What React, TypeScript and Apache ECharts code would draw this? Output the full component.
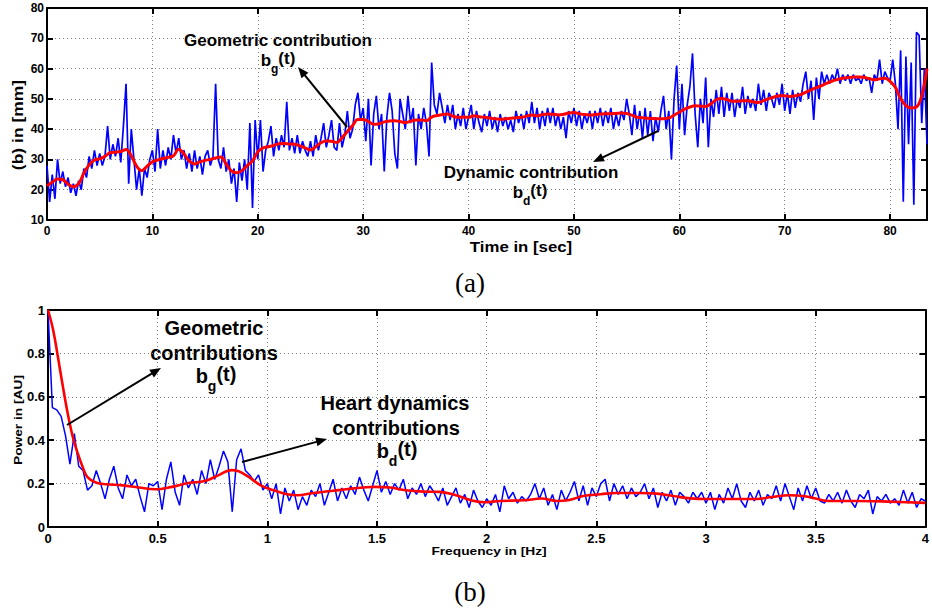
import React, { useEffect, useRef } from "react";
import * as echarts from "echarts";

// ---------- Data ----------
// (a) raw displacement b(t) in mm, one row per second, step 0.25 s, t = 0 .. 83.5
const TOP_STEP = 0.25;
const blueTop: number[] = [
  28, 16, 25, 17, 30, 22, 26, 21, 24, 19, 22, 18, 23, 20, 27, 24,
  31, 27, 33, 28, 32, 28, 31, 41, 30, 35, 31, 37, 29, 41, 55, 22,
  40, 30, 20, 27, 18, 27, 24, 30, 33, 26, 40, 27, 33, 28, 34, 30,
  38, 32, 37, 30, 33, 27, 32, 26, 33, 27, 31, 25, 31, 33, 28, 31,
  55, 30, 27, 34, 26, 30, 22, 27, 16, 29, 23, 30, 20, 42, 14, 43,
  30, 43, 26, 33, 36, 41, 31, 37, 33, 38, 34, 49, 33, 37, 32, 38,
  32, 36, 33, 31, 36, 31, 38, 33, 37, 42, 34, 38, 43, 34, 33, 42,
  34, 38, 46, 37, 40, 48, 52, 43, 47, 36, 50, 28, 45, 51, 40, 45,
  26, 44, 52, 46, 32, 27, 50, 45, 40, 51, 42, 47, 28, 45, 40, 47,
  42, 31, 62, 48, 45, 52, 47, 42, 48, 43, 48, 40, 45, 41, 47, 40,
  44, 48, 40, 46, 42, 39, 45, 41, 46, 40, 44, 39, 45, 41, 44, 40,
  43, 39, 46, 42, 45, 40, 46, 42, 49, 42, 47, 40, 46, 41, 47, 42,
  47, 41, 45, 40, 44, 37, 46, 42, 47, 41, 46, 40, 45, 42, 46, 40,
  46, 42, 47, 41, 46, 42, 47, 40, 45, 41, 46, 43, 50, 45, 38, 48,
  40, 46, 37, 47, 38, 46, 36, 44, 39, 46, 51, 40, 46, 30, 50, 61,
  40, 55, 38, 48, 54, 65, 45, 34, 50, 42, 57, 34, 50, 44, 53, 45,
  54, 44, 52, 46, 52, 44, 50, 47, 54, 45, 51, 47, 50, 46, 55, 48,
  53, 46, 52, 50, 47, 52, 48, 55, 46, 52, 45, 53, 47, 52, 49, 55,
  59, 50, 56, 43, 57, 50, 59, 55, 58, 55, 58, 56, 60, 55, 58, 56,
  58, 55, 58, 56, 57, 55, 58, 56, 57, 52, 58, 56, 63, 55, 59, 57,
  56, 63, 55, 40, 66, 16, 64, 35, 62, 15, 72, 71, 42, 60, 35,
];

// (a) geometric contribution b_g(t), step 0.5 s, t = 0 .. 83.5
const RED_TOP_STEP = 0.5;
const redTop: number[] = [
  21.3, 22.5, 23.5, 23.3, 21.8, 21, 22, 25.5, 28.2, 29.8, 30.2, 31,
  32.2, 32.4, 32.6, 33.3, 31.2, 27.8, 26.3, 27.8, 29.2, 29.8, 30.3, 30.7,
  31.2, 33.4, 31.8, 29.5, 28.5, 29.2, 29.7, 30, 30.5, 30.8, 28.5, 26.2,
  25.6, 26.3, 28, 29.5, 32.5, 33.8, 34.2, 34.6, 35.2, 35.3, 35.1, 35,
  34.5, 33.8, 33.1, 34.2, 35.5, 36.1, 36, 35.6, 37.2, 39.2, 41.2, 43.2,
  43.2, 42.5, 41.6, 41.8, 42.4, 42.7, 42.8, 42.5, 42.2, 42.6, 43, 43,
  42.8, 44, 44.5, 44.8, 45, 44.3, 43.9, 44, 43.9, 44.4, 44.1, 43.9,
  43.7, 43.4, 43.3, 43.4, 43.6, 43.8, 43.9, 44.3, 44.7, 44.4, 44.8, 45,
  44.9, 44.7, 44.9, 45.3, 45.5, 45.1, 44.8, 44.7, 44.8, 45, 45.1, 45.1,
  45.2, 45.3, 45.2, 44.6, 43.9, 43.8, 43.6, 43.5, 43.4, 43.4, 43.7, 44.6,
  45.6, 46.6, 47.3, 47.7, 47.6, 47.5, 48.4, 49.7, 50.1, 49.8, 49.2, 49.2,
  49.4, 49.4, 49, 48.8, 49.4, 50.1, 50.6, 51, 51, 50.8, 51, 51.4,
  52.2, 53, 53.7, 54.4, 55.2, 55.9, 56.4, 56.8, 57, 57.2, 57.2, 57.1,
  56.7, 56.3, 56.6, 56.8, 55.8, 53.8, 50, 47.8, 47, 47.3, 51, 60,
];

// (b) power spectrum, step 0.02 Hz, f = 0 .. 4
const BOTTOM_STEP = 0.02;
const blueBottom: number[] = [
  1.0, 0.55, 0.54, 0.51, 0.42, 0.29, 0.43, 0.28, 0.26, 0.17,
  0.19, 0.26, 0.2, 0.13, 0.22, 0.28, 0.18, 0.13, 0.24, 0.19,
  0.22, 0.14, 0.07, 0.2, 0.19, 0.21, 0.08, 0.22, 0.3, 0.16,
  0.1, 0.24, 0.18, 0.22, 0.15, 0.26, 0.2, 0.31, 0.22, 0.28,
  0.35, 0.3, 0.07, 0.31, 0.36, 0.26, 0.24, 0.21, 0.24, 0.17,
  0.2, 0.13, 0.2, 0.06, 0.18, 0.12, 0.17, 0.08, 0.14, 0.1,
  0.17, 0.14, 0.2, 0.1, 0.16, 0.22, 0.12, 0.18, 0.13, 0.19,
  0.15, 0.23, 0.17, 0.12, 0.19, 0.26, 0.16, 0.21, 0.15, 0.2,
  0.17, 0.22, 0.13, 0.18, 0.15, 0.2, 0.14, 0.19, 0.16, 0.12,
  0.18, 0.1, 0.14, 0.18, 0.11, 0.15, 0.09, 0.17, 0.12, 0.09,
  0.13, 0.1, 0.15, 0.07, 0.19, 0.13, 0.16, 0.11, 0.14, 0.12,
  0.15, 0.2, 0.13, 0.18, 0.1, 0.15, 0.08, 0.17, 0.12, 0.16,
  0.21, 0.12, 0.19, 0.1, 0.18, 0.14, 0.2, 0.22, 0.12, 0.2,
  0.15, 0.19, 0.13, 0.18, 0.14, 0.16, 0.2, 0.13, 0.18, 0.09,
  0.16, 0.12, 0.17, 0.1, 0.16, 0.14, 0.11, 0.16, 0.13, 0.16,
  0.11, 0.16, 0.08, 0.15, 0.11, 0.18, 0.13, 0.2, 0.12, 0.09,
  0.16, 0.12, 0.17, 0.1, 0.15, 0.13, 0.19, 0.12, 0.2, 0.14,
  0.08, 0.18, 0.12, 0.19, 0.13, 0.18, 0.12, 0.11, 0.15, 0.12,
  0.16, 0.11, 0.17, 0.12, 0.09, 0.15, 0.13, 0.17, 0.06, 0.14,
  0.12, 0.15, 0.11, 0.13, 0.1, 0.17, 0.11, 0.16, 0.09, 0.13,
  0.12,
];

// (b) smoothed spectrum: [frequency, power]
const redBottom: [number, number][] = [
  [0, 1.0], [0.023, 0.91], [0.045, 0.785], [0.068, 0.646], [0.09, 0.523],
  [0.113, 0.415], [0.136, 0.338], [0.158, 0.277], [0.18, 0.23], [0.218, 0.205],
  [0.264, 0.197], [0.339, 0.192], [0.414, 0.182], [0.49, 0.174], [0.565, 0.185],
  [0.64, 0.203], [0.715, 0.212], [0.776, 0.238], [0.836, 0.262], [0.866, 0.258],
  [0.91, 0.234], [0.97, 0.192], [1.03, 0.169], [1.09, 0.151], [1.137, 0.146],
  [1.21, 0.157], [1.29, 0.166], [1.36, 0.174], [1.44, 0.182], [1.49, 0.185],
  [1.56, 0.182], [1.63, 0.169], [1.71, 0.163], [1.785, 0.162], [1.86, 0.146],
  [1.93, 0.123], [1.99, 0.114], [2.06, 0.12], [2.17, 0.123], [2.25, 0.131],
  [2.32, 0.12], [2.37, 0.123], [2.44, 0.143], [2.52, 0.151], [2.59, 0.157],
  [2.7, 0.157], [2.776, 0.154], [2.85, 0.143], [2.93, 0.132], [3.0, 0.129],
  [3.08, 0.129], [3.15, 0.129], [3.23, 0.129], [3.3, 0.138], [3.38, 0.146],
  [3.45, 0.142], [3.5, 0.131], [3.56, 0.12], [3.68, 0.12], [3.83, 0.117],
  [4.0, 0.111],
];

// axis ranges
const TOP_X = { min: 0, max: 83.5, interval: 10 };
const TOP_Y = { min: 10, max: 80, interval: 10 };
const BOT_X = { min: 0, max: 4, interval: 0.5 };
const BOT_Y = { min: 0, max: 1, interval: 0.2 };

const FONT = "'Liberation Sans', Arial, Helvetica, sans-serif";
const SERIF = "'Liberation Serif', 'DejaVu Serif', serif";

function measure(text: string, size: number): number {
  const c = document.createElement("canvas").getContext("2d");
  if (!c) return text.length * size * 0.6;
  c.font = `bold ${size}px ${FONT}`;
  return c.measureText(text).width;
}

function txt(x: number, y: number, text: string, size: number, extra: any = {}) {
  return {
    type: "text",
    x,
    y,
    ...extra,
    style: {
      text,
      fill: "#000",
      fontSize: size,
      fontWeight: "bold",
      fontFamily: FONT,
      align: extra.align || "center",
      verticalAlign: "middle",
    },
  };
}

function subLabel(cx: number, cy: number, size: number, sub: string) {
  const ss = Math.round(size * 0.72);
  const wb = measure("b", size);
  const ws = measure(sub, ss);
  const wt = measure("(t)", size);
  const x0 = cx - (wb + ws + wt) / 2;
  return [
    txt(x0, cy, "b", size, { align: "left" }),
    txt(x0 + wb, cy + size * 0.5, sub, ss, { align: "left" }),
    txt(x0 + wb + ws, cy - size * 0.1, "(t)", size, { align: "left" }),
  ];
}

function arrow(x1: number, y1: number, x2: number, y2: number) {
  const L = Math.hypot(x2 - x1, y2 - y1);
  const ux = (x2 - x1) / L;
  const uy = (y2 - y1) / L;
  const hl = 11;
  const hw = 4.5;
  const bx = x2 - ux * hl;
  const by = y2 - uy * hl;
  return [
    {
      type: "line",
      shape: { x1, y1, x2: bx + ux * 2, y2: by + uy * 2 },
      style: { stroke: "#000", lineWidth: 2 },
      z: 100,
    },
    {
      type: "polygon",
      shape: {
        points: [
          [x2, y2],
          [bx - uy * hw, by + ux * hw],
          [bx + uy * hw, by - ux * hw],
        ],
      },
      style: { fill: "#000" },
      z: 100,
    },
  ];
}

function axisPair(
  kind: "x" | "y",
  gridIndex: number,
  r: { min: number; max: number; interval: number },
  fontSize: number,
  margin: number
) {
  const base = {
    type: "value",
    gridIndex,
    min: r.min,
    max: r.max,
    interval: r.interval,
    axisLine: { show: true, onZero: false, lineStyle: { color: "#000", width: 2 } },
    axisTick: { show: true, inside: true, length: 6, lineStyle: { color: "#000", width: 2 } },
  };
  const main = {
    ...base,
    position: kind === "x" ? "bottom" : "left",
    axisLabel: {
      color: "#000",
      fontFamily: FONT,
      fontWeight: "bold",
      fontSize,
      margin,
      showMaxLabel: kind === "x" && r.max % r.interval !== 0 ? false : true,
    },
    splitLine: { show: true, lineStyle: { color: "#808080", width: 1, type: [1, 3] } },
  };
  const second = {
    ...base,
    position: kind === "x" ? "top" : "right",
    axisLabel: { show: false },
    splitLine: { show: false },
  };
  return [main, second];
}

export default function App() {
  const ref = useRef<HTMLDivElement>(null);

  useEffect(() => {
    if (!ref.current) return;
    const chart = echarts.init(ref.current, null, { renderer: "svg" });

    const blueTopData = blueTop.map((v, i) => [i * TOP_STEP, v]);
    const redTopData = redTop.map((v, i) => [i * RED_TOP_STEP, v]);
    const blueBottomData = blueBottom.map((v, i) => [+(i * BOTTOM_STEP).toFixed(2), v]);

    const graphic: any[] = [
      // axis titles
      txt(521, 247, "Time in [sec]", 14, { scaleX: 1.2 }),
      txt(18, 125, "(b) in [mm]", 14, { rotation: Math.PI / 2, scaleX: 1.25 }),
      txt(489, 551, "Frequency in [Hz]", 11, { scaleX: 1.25 }),
      txt(18, 420, "Power in [AU]", 11, { rotation: Math.PI / 2, scaleX: 1.25 }),
      // panel captions
      {
        type: "text",
        x: 470,
        y: 283,
        style: { text: "(a)", fill: "#000", fontSize: 27, fontFamily: SERIF, align: "center", verticalAlign: "middle" },
      },
      {
        type: "text",
        x: 470,
        y: 592,
        style: { text: "(b)", fill: "#000", fontSize: 27, fontFamily: SERIF, align: "center", verticalAlign: "middle" },
      },
      // top annotations
      txt(278, 40, "Geometric contribution", 17),
      ...subLabel(278, 60, 17, "g"),
      ...arrow(347, 127, 298, 67),
      txt(531, 172.5, "Dynamic contribution", 17),
      ...subLabel(530, 192, 17, "d"),
      ...arrow(658, 131, 593, 162),
      // bottom annotations
      txt(214, 328, "Geometric", 20),
      txt(214, 353, "contributions", 20),
      ...subLabel(216, 376, 20, "g"),
      ...arrow(67, 425, 161, 368),
      txt(395, 403, "Heart dynamics", 20),
      txt(396, 428, "contributions", 20),
      ...subLabel(397, 451, 20, "d"),
      ...arrow(242, 462, 327, 439),
    ];

    const option: any = {
      animation: false,
      backgroundColor: "#fff",
      grid: [
        { left: 47, top: 8, width: 880, height: 212, containLabel: false },
        { left: 48, top: 310, width: 882, height: 217, containLabel: false },
      ],
      xAxis: [...axisPair("x", 0, TOP_X, 12, 5), ...axisPair("x", 1, BOT_X, 13, 5)],
      yAxis: [...axisPair("y", 0, TOP_Y, 12, 3), ...axisPair("y", 1, BOT_Y, 13, 3)],
      series: [
        {
          type: "line",
          xAxisIndex: 0,
          yAxisIndex: 0,
          data: blueTopData,
          showSymbol: false,
          lineStyle: { color: "#0000ff", width: 1.7 },
          z: 2,
        },
        {
          type: "line",
          xAxisIndex: 0,
          yAxisIndex: 0,
          data: redTopData,
          smooth: 0.4,
          showSymbol: false,
          lineStyle: { color: "#ff0000", width: 3 },
          z: 3,
        },
        {
          type: "line",
          xAxisIndex: 2,
          yAxisIndex: 2,
          data: blueBottomData,
          showSymbol: false,
          lineStyle: { color: "#0000ff", width: 1.5 },
          z: 2,
        },
        {
          type: "line",
          xAxisIndex: 2,
          yAxisIndex: 2,
          data: redBottom,
          smooth: 0.4,
          showSymbol: false,
          lineStyle: { color: "#ff0000", width: 2.6 },
          z: 3,
        },
      ],
      graphic,
    };

    chart.setOption(option);
    return () => chart.dispose();
  }, []);

  return (
    <div
      ref={ref}
      style={{ position: "fixed", left: 0, top: 0, width: 932, height: 611, background: "#fff" }}
    />
  );
}
